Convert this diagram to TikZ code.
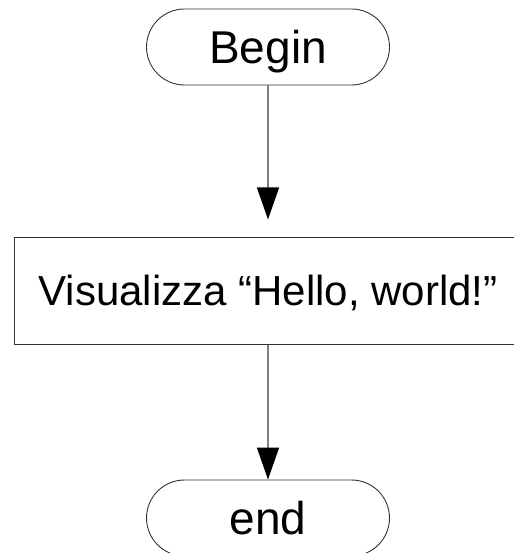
\documentclass[tikz,border=0pt]{standalone}
\usepackage{fontspec}
\setmainfont{Liberation Sans}
\usetikzlibrary{arrows.meta}
\begin{document}
\begin{tikzpicture}[x=1pt,y=-1pt,
  terminal/.style={draw=black!80, line width=0.9pt, rounded corners=38pt,
    minimum width=243pt, minimum height=76pt, inner sep=0pt,
    font=\fontsize{46}{50}\selectfont, text height=33pt, text depth=0pt},
  process/.style={draw=black!80, line width=1pt,
    minimum width=508pt, minimum height=107pt, inner sep=0pt,
    font=\fontsize{42}{48}\selectfont, text height=30pt, text depth=0pt},
  flow/.style={draw=black!50, line width=1.3pt,
    -{Triangle[length=32pt,width=22pt,color=black]}}]
\useasboundingbox (0,0) rectangle (513,553);
% flowchart: start, one output step, end
\node[terminal] (b) at (268,47) {Begin};
\node[process] (p) at (268,290.5) {Visualizza “Hello, world!”};
\node[terminal] (e) at (268,518) {end};
\draw[flow, shorten >=17pt] (b) -- (p);
\draw[flow] (p) -- (e);
\end{tikzpicture}
\end{document}
